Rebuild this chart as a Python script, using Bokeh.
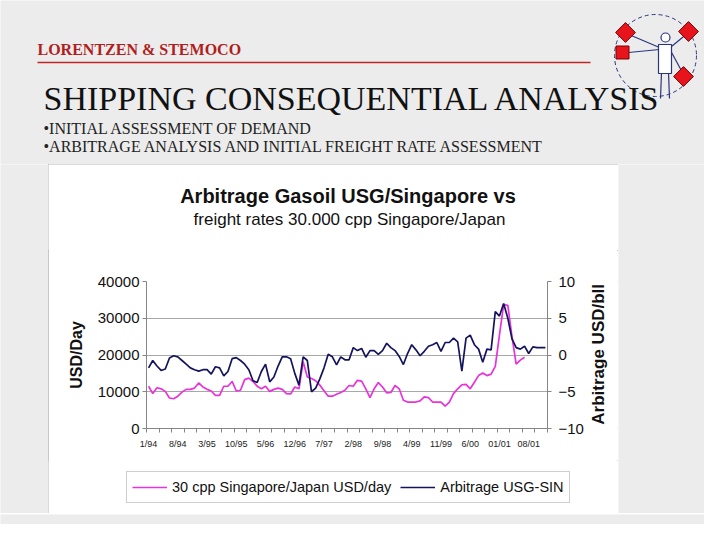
import math
from bokeh.plotting import figure
from bokeh.models import (Range1d, LinearAxis, FixedTicker, Legend, LegendItem,
                          Label, NumeralTickFormatter)
from bokeh.layouts import column, row
from bokeh.embed import file_html
from bokeh.resources import INLINE

# ---------------- data ----------------
tick_labels = ["1/94", "8/94", "3/95", "10/95", "5/96", "12/96", "7/97",
               "2/98", "9/98", "4/99", "11/99", "6/00", "01/01", "08/01"]

# 30 cpp Singapore/Japan freight, USD/day (monthly from 1/94)
freight = [11500, 9500, 11100, 10800, 10100, 8300, 8100, 8800, 9900, 10650,
           10650, 11000, 12400, 11300, 10650, 10200, 9000, 9000, 11500, 11500,
           12800, 10200, 10400, 13300, 13700, 12800, 11500, 10800, 11500, 10100,
           10650, 11000, 10650, 9500, 9400, 11300, 10800, 18200, 14000, 13600,
           13000, 11800, 10300, 8800, 8800, 9300, 9800, 10400, 11700, 11500,
           13100, 12900, 10800, 8400, 10800, 12500, 11300, 9700, 9800, 11700,
           10800, 7700, 7200, 7200, 7200, 7500, 8600, 8400, 7200, 7200,
           7200, 6100, 7200, 9500, 10800, 11900, 12000, 10800, 12600, 14400,
           15100, 14400, 14800, 16900, 25500, 33700, 33500, 25000, 17500, 18600,
           19400]

# Arbitrage USG-SIN, USD/bbl (monthly from 1/94)
arbitrage = [-1.75, -0.75, -1.5, -2.1, -1.9, -0.4, -0.1, -0.25, -0.75, -1.25,
             -1.75, -2.0, -2.2, -2.0, -2.0, -2.6, -1.6, -1.75, -2.85, -2.25,
             -0.5, -0.35, -0.75, -1.25, -2.0, -3.5, -3.75, -2.25, -1.25, -3.65,
             -3.0, -1.5, -0.25, -0.25, -0.5, -2.5, -4.1, -0.25, -0.75, -5.0,
             -4.5, -3.25, -1.75, 0.1, -0.25, -1.35, -0.25, -0.65, -0.65, 1.0,
             0.6, 0.9, -0.3, 0.6, 0.6, 0.1, 0.6, 1.6, 1.0, 0.6,
             -0.2, -1.3, 0.2, 1.4, 0.7, -0.1, 0.5, 1.2, 1.4, 1.7,
             0.5, 1.7, 1.7, 2.3, 1.8, -2.2, 2.3, 2.7, 1.4, 0.8,
             -1.0, 0.8, 0.7, 5.9, 5.3, 7.0, 5.0, 2.2, 1.0, 0.8,
             1.2, 0.2, 1.1, 1.0, 1.0, 1.0]

left_ticks = [0, 10000, 20000, 30000, 40000]
right_ticks = [-10, -5, 0, 5, 10]

n_months = len(arbitrage)
month_idx = list(range(n_months))
label_idx = [7 * k for k in range(len(tick_labels))]

series_names = ["30 cpp Singapore/Japan USD/day", "Arbitrage USG-SIN"]

# ---------------- style ----------------
SLIDE_BG = "#ececec"
PINK = "#e832dc"
NAVY = "#14145e"
SANS = "Liberation Sans"
SERIF = "Liberation Serif"
AXIS_GREY = "#858585"
TXT = "#111111"


def panel(w, h, x0, x1, y0, y1, bg):
    """A bare figure whose data coordinates equal page pixels (y downwards)."""
    return figure(width=w, height=h, x_range=Range1d(x0, x1), y_range=Range1d(y1, y0),
                  x_axis_type=None, y_axis_type=None, min_border=0,
                  output_backend="svg", toolbar_location=None,
                  background_fill_color=bg, border_fill_color=bg,
                  outline_line_color=None)


# ---------------- slide header ----------------
header = panel(704, 164, 0, 704, 0, 164, SLIDE_BG)

# logo (semaphore sailor)
LOGO = "#2a3580"
header.circle(x=[655], y=[55], radius=41, fill_color=None, line_color=LOGO,
              line_dash="4 3", line_width=1)
header.segment(x0=[626, 688, 628, 670, 661, 668], y0=[33, 32, 52, 50, 72, 72],
               x1=[659, 671, 659, 683, 660, 669], y1=[47, 46, 49, 74, 98, 98],
               line_color=LOGO, line_width=1.2)
header.quad(left=[658], right=[671], top=[44], bottom=[73], fill_color="white",
            line_color=LOGO, line_width=1.2)
header.circle(x=[665], y=[37], radius=4.5, fill_color="white", line_color=LOGO,
              line_width=1.2)
header.rect(x=[625, 688, 683], y=[32, 31, 76], width=14, height=14, angle=math.pi / 4,
            fill_color="#e8141c", line_color="#7a0000", line_width=1)
header.rect(x=[622], y=[52], width=13, height=13, fill_color="#e8141c",
            line_color="#7a0000", line_width=1)

header.line(x=[37, 590], y=[62, 62], line_color="#c02424", line_width=1.5)
header.add_layout(Label(x=37, y=49, text="LORENTZEN & STEMOCO", text_font=SERIF,
                        text_font_size="16px", text_font_style="bold",
                        text_color="#b01e1e", text_baseline="alphabetic"))
header.add_layout(Label(x=43, y=98, text="SHIPPING CONSEQUENTIAL ANALYSIS",
                        text_font=SERIF, text_font_size="34px", text_color=TXT,
                        text_baseline="alphabetic"))
header.add_layout(Label(x=43, y=128, text="\u2022INITIAL ASSESSMENT OF DEMAND",
                        text_font=SERIF, text_font_size="16px", text_color="#222222",
                        text_baseline="alphabetic"))
header.add_layout(Label(x=43, y=146,
                        text="\u2022ARBITRAGE ANALYSIS AND INITIAL FREIGHT RATE ASSESSMENT",
                        text_font=SERIF, text_font_size="16px", text_color="#222222",
                        text_baseline="alphabetic"))

# ---------------- chart titles ----------------
title_fig = panel(570, 86, 48, 618, 164, 250, "white")
title_fig.add_layout(Label(x=347.5, y=195, text="Arbitrage Gasoil USG/Singapore vs",
                           text_align="center", text_baseline="alphabetic",
                           text_font=SANS, text_font_size="20px",
                           text_font_style="bold", text_color=TXT))
title_fig.add_layout(Label(x=349, y=219, text="freight rates 30.000 cpp Singapore/Japan",
                           text_align="center", text_baseline="alphabetic",
                           text_font=SANS, text_font_size="17px", text_color=TXT))

# ---------------- chart plot ----------------
chart = figure(width=538, height=210, x_range=Range1d(-0.5, n_months - 0.5),
               y_range=Range1d(0, 40000), output_backend="svg", toolbar_location=None,
               min_border_left=98, min_border_right=39, min_border_top=31,
               min_border_bottom=32, background_fill_color="white",
               border_fill_color="white", outline_line_color=None)
chart.extra_y_ranges = {"arb": Range1d(-10, 10)}

xax = chart.xaxis[0]
xax.ticker = FixedTicker(ticks=label_idx,
                         minor_ticks=[-0.5 + 3 * k for k in range(n_months // 3 + 1)])
xax.major_label_overrides = {i: lab for i, lab in zip(label_idx, tick_labels)}
xax.major_tick_line_color = None
xax.major_tick_out = 4
xax.major_label_standoff = 6
xax.minor_tick_out = 4
xax.minor_tick_in = 0
xax.minor_tick_line_color = AXIS_GREY
xax.axis_line_color = AXIS_GREY
xax.major_label_text_font = SANS
xax.major_label_text_font_size = "9px"
xax.major_label_text_color = "#222222"

yax = chart.yaxis[0]
yax.ticker = FixedTicker(ticks=left_ticks)
yax.formatter = NumeralTickFormatter(format="0")
yax.axis_label = "USD/Day"
yax.axis_label_text_font = SANS
yax.axis_label_text_font_size = "16px"
yax.axis_label_text_font_style = "bold"
yax.axis_label_text_color = TXT
yax.axis_label_standoff = 10
yax.major_label_text_font = SANS
yax.major_label_text_font_size = "15px"
yax.major_label_text_color = TXT
yax.major_tick_out = 4
yax.major_tick_in = 0
yax.major_label_standoff = 3
yax.minor_tick_line_color = None
yax.axis_line_color = AXIS_GREY
yax.major_tick_line_color = AXIS_GREY

rax = LinearAxis(y_range_name="arb", ticker=FixedTicker(ticks=right_ticks))
rax.major_label_text_font = SANS
rax.major_label_text_font_size = "15px"
rax.major_label_text_color = TXT
rax.major_tick_out = 4
rax.major_tick_in = 0
rax.major_label_standoff = 7
rax.minor_tick_line_color = None
rax.axis_line_color = AXIS_GREY
rax.major_tick_line_color = AXIS_GREY
chart.add_layout(rax, "right")

chart.xgrid.visible = False
chart.ygrid.ticker = FixedTicker(ticks=left_ticks)
chart.ygrid.grid_line_color = "#a8a8a8"

chart.line(x=month_idx[:len(freight)], y=freight, line_color=PINK, line_width=1.7)
chart.line(x=month_idx, y=arbitrage, y_range_name="arb", line_color=NAVY, line_width=1.7)

# ---------------- right axis title ----------------
rtitle = panel(32, 210, 586, 618, 250, 460, "white")
rtitle.add_layout(Label(x=598, y=354, text="Arbitrage USD/bll", angle=math.pi / 2,
                        text_align="center", text_baseline="middle", text_font=SANS,
                        text_font_size="17px", text_font_style="bold", text_color=TXT))

# ---------------- legend ----------------
# the legend panel carries the same series (they fall outside its visible range,
# so only their legend samples show)
leg_fig = panel(570, 53, 48, 618, 460, 513, "white")
lg_pink = leg_fig.line(x=month_idx[:len(freight)], y=freight, line_color=PINK,
                       line_width=1.7)
lg_navy = leg_fig.line(x=month_idx, y=arbitrage, line_color=NAVY, line_width=1.7)
legend = Legend(items=[LegendItem(label=series_names[0], renderers=[lg_pink]),
                       LegendItem(label=series_names[1], renderers=[lg_navy])],
                orientation="horizontal", location=(78, 10), glyph_width=35,
                glyph_height=20, label_standoff=5, spacing=9, padding=5, margin=0,
                border_line_color="#a0a0a0", background_fill_color="white",
                label_text_font=SANS, label_text_font_size="14.5px",
                label_text_color=TXT)
leg_fig.add_layout(legend, "center")

chart_box = column(title_fig, row(chart, rtitle), leg_fig,
                   styles={"outline": "1px solid #b4b4b4", "outline-offset": "-1px"})

left_strip = panel(48, 349, 0, 48, 0, 349, SLIDE_BG)
right_strip = panel(86, 349, 0, 86, 0, 349, SLIDE_BG)
bottom_strip = panel(704, 11, 0, 704, 0, 11, SLIDE_BG)

page = column(header, row(left_strip, chart_box, right_strip), bottom_strip)

open("out.html", "w").write(file_html(page, INLINE))
